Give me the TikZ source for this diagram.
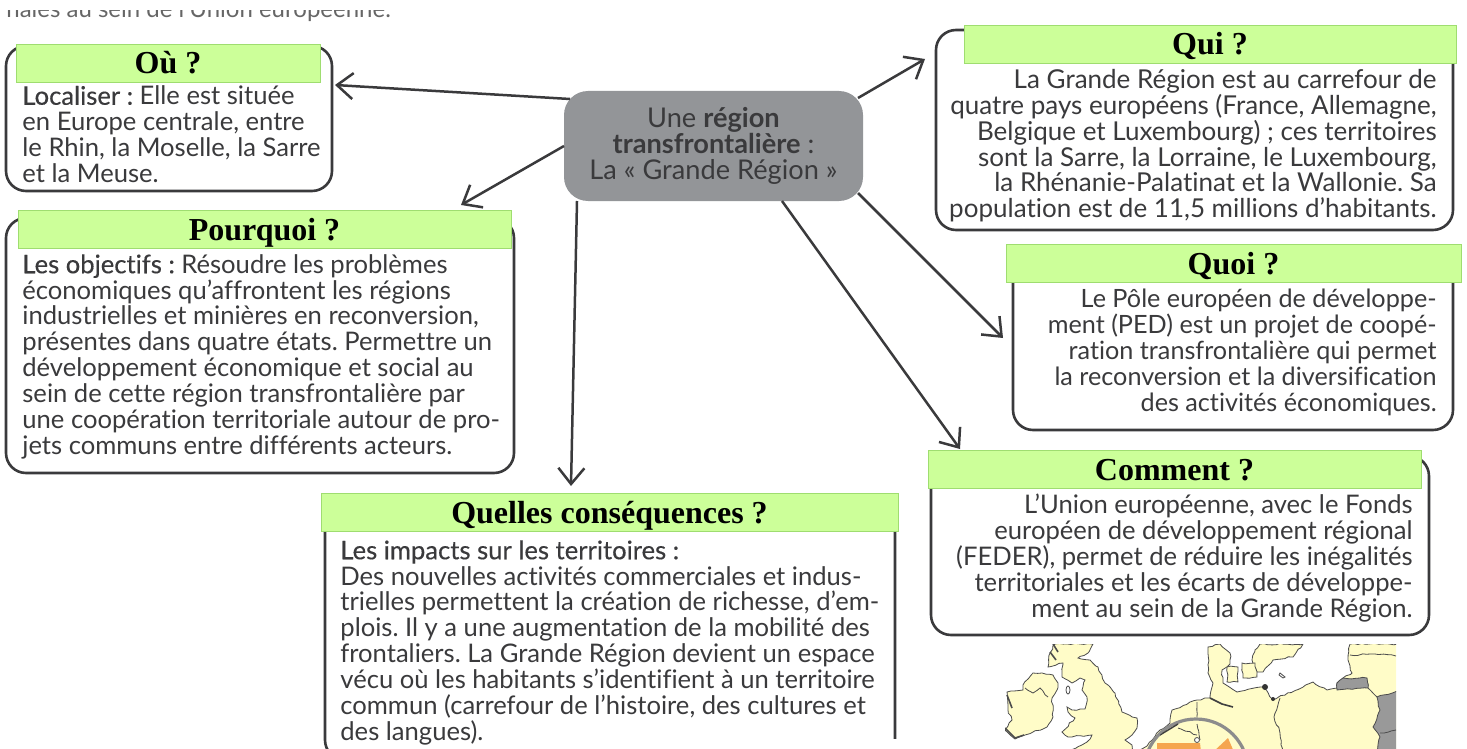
\documentclass[tikz,border=0pt]{standalone}
\usepackage{fontspec}
\setmainfont{Lato}[Ligatures=NoCommon]
\newfontfamily\titlefont{Liberation Serif}
\newfontfamily\midfont[FakeBold=0.35,Ligatures=NoCommon]{Lato}
\usetikzlibrary{arrows.meta,decorations.pathmorphing}
\frenchspacing
\definecolor{inkgrey}{HTML}{3A3A3C}
\definecolor{hubgrey}{HTML}{939598}
\definecolor{bannergreen}{HTML}{CCFF99}
\definecolor{bannerline}{HTML}{9FDD70}
\definecolor{mapyellow}{HTML}{FFFCC8}
\definecolor{maporange}{HTML}{F5A54F}
\definecolor{mapgrey}{HTML}{999999}
\tikzset{
  box/.style={draw=inkgrey,fill=white,line width=1.3pt,rounded corners=10pt,inner sep=0pt,outer sep=0pt},
  banner/.style={draw=bannerline,fill=bannergreen,line width=.4pt,inner sep=0pt,outer sep=0pt,minimum height=19pt,
    text height=11pt,text depth=0pt,font=\titlefont\bfseries\fontsize{16}{18}\selectfont},
  body/.style={inner sep=0pt,text=inkgrey,font=\fontsize{12.8}{12.92}\selectfont},
  coast/.style={draw=black!70,line width=.4pt,decorate,decoration={random steps,segment length=2pt,amplitude=.45pt}},
  land/.style={coast,fill=mapyellow},
  arrowline/.style={draw=inkgrey,line width=1.25pt},
}
\begin{document}
\begin{tikzpicture}[x=.5pt,y=-.5pt]
  \useasboundingbox (0,0) rectangle (1467,749);
  \node[body,anchor=base west,text=black!60,font=\fontsize{12}{13}\selectfont] (intro) at (6,18) {nales au sein de l’Union européenne.};
  \fill[white] (0,0) rectangle (420,10);
  % boxes
  \node[box,minimum width=163pt,minimum height=72.5pt] (ou) at (169,118.5) {};
  \node[box,minimum width=254pt,minimum height=127.5pt] (pourquoi) at (260,345.5) {};
  \node[box,minimum width=258.5pt,minimum height=100pt] (qui) at (1194.5,130) {};
  \node[box,minimum width=220pt,minimum height=87.5pt] (quoi) at (1233,342.5) {};
  \node[box,minimum width=249pt,minimum height=89.5pt] (comment) at (1180,545.5) {};
  \node[box,minimum width=285pt,minimum height=127.5pt] (consequences) at (610,632.5) {};
  \fill[white] (880,739) rectangle (905,749);
  \node[draw=none,fill=hubgrey,rounded corners=12pt,inner sep=0pt,outer sep=0pt,minimum width=149.5pt,minimum height=55pt,
    align=center,text=inkgrey,font=\fontsize{13.6}{12.92}\selectfont] (hub) at (713.5,146)
    {Une \textbf{région}\\\textbf{transfrontalière} :\\La « Grande Région »};
  % texts of the boxes
  \node[body,anchor=north west,align=left] (outext) at (22,85.5)
    {{\midfont Localiser :} Elle est située\\en Europe centrale, entre\\le Rhin, la Moselle, la Sarre\\et la Meuse.};
  \node[body,anchor=north west,align=left] (pourquoitext) at (22,254)
    {{\midfont Les objectifs :} Résoudre les problèmes\\économiques qu’affrontent les régions\\industrielles et minières en reconversion,\\présentes dans quatre états. Permettre un\\développement économique et social au\\sein de cette région transfrontalière par\\une coopération territoriale autour de pro-\\jets communs entre différents acteurs.};
  \node[body,anchor=north east,align=right,font=\fontsize{13}{12.92}\selectfont] (quitext) at (1437,69)
    {La Grande Région est au carrefour de\\quatre pays européens (France, Allemagne,\\Belgique et Luxembourg) ; ces territoires\\sont la Sarre, la Lorraine, le Luxembourg,\\la Rhénanie-Palatinat et la Wallonie. Sa\\population est de 11,5 millions d’habitants.};
  \node[body,anchor=north east,align=right,font=\fontsize{12.6}{12.92}\selectfont] (quoitext) at (1437,289)
    {Le Pôle européen de développe-\\ment (PED) est un projet de coopé-\\ration transfrontalière qui permet\\la reconversion et la diversification\\des activités économiques.};
  \node[body,anchor=north east,align=right] (commenttext) at (1413,494)
    {L’Union européenne, avec le Fonds\\européen de développement régional\\(FEDER), permet de réduire les inégalités\\territoriales et les écarts de développe-\\ment au sein de la Grande Région.};
  \node[body,anchor=north west,align=left] (consequencestext) at (340,540)
    {{\midfont Les impacts sur les territoires :}\\Des nouvelles activités commerciales et indus-\\trielles permettent la création de richesse, d’em-\\plois. Il y a une augmentation de la mobilité des\\frontaliers. La Grande Région devient un espace\\vécu où les habitants s’identifient à un territoire\\commun (carrefour de l’histoire, des cultures et\\des langues).};
  % map
  \begin{scope}
    \clip (1005,644) rectangle (1396,749);
    \path[land] (1023,685) -- (1033,673) -- (1042,673) -- (1053,675) -- (1058,683) -- (1057,690) -- (1052,698) -- (1053,717) -- (1047,727)
      -- (1033,732) -- (1025,735) -- (1015,739) -- (1005,730) -- (1012,720) -- (1008,710) -- (1007,692) -- (1023,690) -- cycle;
    \draw[coast] (1025,688) -- (1033,693) -- (1040,688) -- (1048,697);
    \path[land] (1055,644) -- (1093,644) -- (1088,653) -- (1078,658) -- (1090,660) -- (1098,667) -- (1105,683) -- (1115,693) -- (1122,712)
      -- (1137,718) -- (1137,728) -- (1132,735) -- (1125,740) -- (1132,745) -- (1133,752) -- (1068,752) -- (1087,742) -- (1092,735)
      -- (1068,737) -- (1062,732) -- (1075,718) -- (1068,712) -- (1067,707) -- (1072,710) -- (1085,709) -- (1087,697) -- (1082,690)
      -- (1085,680) -- (1080,678) -- (1072,683) -- (1062,677) -- (1063,663) -- (1048,667) -- (1050,653) -- cycle;
    \path[draw=black!70,line width=.4pt,fill=white] (1068,690) ellipse (2 and 4);
    \path[land] (1134,752) -- (1147,746) -- (1160,730) -- (1170,723) -- (1172,710) -- (1197,700) -- (1210,698) -- (1213,683) -- (1208,673) -- (1208,647)
      -- (1220,644) -- (1230,653) -- (1230,664) -- (1222,670) -- (1223,683) -- (1237,692) -- (1263,687) -- (1273,700) -- (1313,682)
      -- (1327,690) -- (1337,688) -- (1337,683) -- (1343,678) -- (1352,673) -- (1348,660) -- (1350,644) -- (1400,644) -- (1400,752) -- cycle;
    \path[land] (1260,644) -- (1303,644) -- (1293,657) -- (1273,660) -- (1263,672) -- (1257,672) -- (1252,660) -- (1255,650) -- cycle;
    \path[land] (1227,667) -- (1238,667) -- (1238,682) -- (1227,682) -- cycle;
    \path[land] (1242,663) -- (1255,663) -- (1257,677) -- (1243,678) -- cycle;
    \path[draw=black!70,line width=.4pt,fill=white] (1280,673) -- (1285,677) -- (1283,678) -- (1279,675) -- cycle;
    \path[coast,fill=mapgrey] (1337,690) -- (1337,683) -- (1343,678) -- (1367,678) -- (1368,688) -- cycle;
    \path[coast,fill=mapgrey] (1377,697) -- (1400,690) -- (1400,752) -- (1377,752) -- (1380,737) -- (1373,727) -- (1380,710) -- cycle;
    \draw[coast] (1368,688) -- (1377,697);
    \draw[coast] (1380,733) -- (1396,730);
    \draw[coast] (1350,655) -- (1375,654) -- (1396,656);
    \draw[coast] (1280,698) -- (1274,717) -- (1280,733) -- (1282,752);
    \draw[coast] (1197,702) -- (1197,717);
    \draw[black!75,line width=.8pt] (1210,698) -- (1222,704) -- (1233,707);
    \fill[black!80] (1265,687) circle (3);
    \fill[black!80] (1273,699) circle (2);
    \draw[black!70,line width=.8pt] (1050,652) -- (1056,660) (1053,644) -- (1058,652);
    \draw[black!70,line width=.8pt] (1007,695) -- (1012,708) (1005,728) -- (1015,738) -- (1024,735);
    % magnifying glass
    \path[draw=black!45,fill=mapyellow,line width=1.6pt] (1196,771) circle (52);
    \begin{scope}
      \clip (1196,771) circle (51);
      \fill[maporange] (1157,743) -- (1200,743) -- (1201,752) -- (1157,752) -- cycle;
      \fill[maporange] (1213,752) -- (1228,738) -- (1234,752) -- cycle;
      \draw[black!75,line width=.7pt] (1160,735) -- (1178,724);
      \draw[coast] (1178,728) -- (1197,735);
      \draw[coast] (1197,724) -- (1200,740);
      \path[draw=black!70,line width=.4pt,fill=white] (1197,740) circle (2.5);
    \end{scope}
  \end{scope}
  % titles
  \node[banner,minimum width=152pt] (ouban) at (168,63) {Où ?};
  \node[banner,minimum width=246.5pt] (pourquoiban) at (264.5,229) {Pourquoi ?};
  \node[banner,minimum width=246pt] (quiban) at (1210,44) {Qui ?};
  \node[banner,minimum width=227.5pt] (quoiban) at (1233.5,263) {Quoi ?};
  \node[banner,minimum width=246.5pt] (commentban) at (1174.5,469) {Comment ?};
  \node[banner,minimum width=288.5pt] (consequencesban) at (609.5,512) {Quelles conséquences ?};
  % arrows
  \begin{scope}[-{Straight Barb[length=8pt,width=13pt]},arrowline]
    \draw ([xshift=3pt,yshift=-4pt]hub.north west) to ([xshift=1.5pt,yshift=-19.5pt]ou.north east);
    \draw (hub.west) to ([xshift=-25pt,yshift=2.5pt]pourquoiban.north east);
    \draw ([xshift=6.5pt]hub.south west) to ([xshift=-19.25pt,yshift=3.5pt]consequencesban.north);
    \draw ([xshift=-2.5pt,yshift=-3.5pt]hub.north east) to ([xshift=-5.5pt,yshift=-14.5pt]qui.north west);
    \draw ([xshift=-2.5pt,yshift=4pt]hub.south east) to ([xshift=-5pt,yshift=2.25pt]quoi.west);
    \draw ([xshift=34.25pt]hub.south) to ([xshift=16pt,yshift=.5pt]commentban.north west);
  \end{scope}
\end{tikzpicture}
\end{document}
